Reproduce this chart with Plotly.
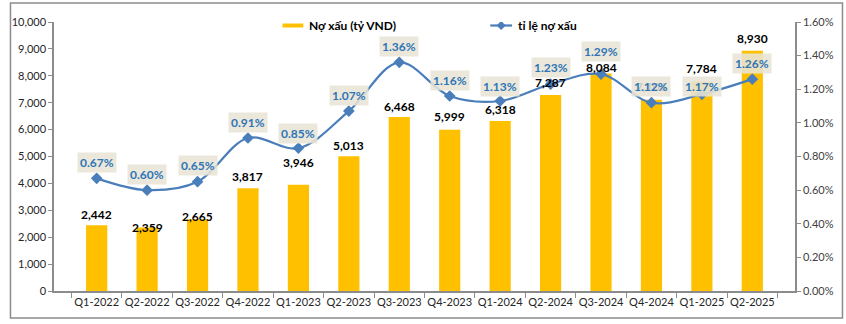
import plotly.graph_objects as go

# Quarterly bad-debt figures
quarters = ["Q1-2022", "Q2-2022", "Q3-2022", "Q4-2022", "Q1-2023", "Q2-2023", "Q3-2023",
            "Q4-2023", "Q1-2024", "Q2-2024", "Q3-2024", "Q4-2024", "Q1-2025", "Q2-2025"]
bad_debt = [2442, 2359, 2665, 3817, 3946, 5013, 6468, 5999, 6318, 7287, 8084, 7106, 7784, 8930]
npl_ratio = [0.0067, 0.0060, 0.0065, 0.0091, 0.0085, 0.0107, 0.0136, 0.0116, 0.0113, 0.0123,
             0.0129, 0.0112, 0.0117, 0.0126]

bar_name = "Nợ xấu (tỷ VND)"
line_name = "tỉ lệ nợ xấu"

# Hand-placed label nudges (pixels above the bar top / line point)
bar_label_lift = [11, 0, 3, 12, 22, 11, 11, 13, 12, 12, 6, 13, 13, 12]
ratio_label_lift = [16, 16, 16, 16, 15, 16, 16, 15, 15, 17, 23, 16, 8, 16]

FONT = "Lato"
BAR_COLOR = "#FFC000"
LINE_COLOR = "#4A7EBB"
AXIS_COLOR = "#8C8C8C"

fig = go.Figure()

fig.add_trace(go.Bar(
    x=quarters, y=bad_debt, name=bar_name,
    marker=dict(color=BAR_COLOR, line=dict(width=0)),
    width=0.42,
    showlegend=False,
))

fig.add_trace(go.Scatter(
    x=quarters, y=npl_ratio, name=line_name, yaxis="y2",
    mode="lines+markers",
    line=dict(color=LINE_COLOR, width=2.2, shape="spline", smoothing=1.0),
    marker=dict(symbol="diamond", size=9, color=LINE_COLOR),
    showlegend=False,
))

# Value labels above the bars
for q, v, lift in zip(quarters, bad_debt, bar_label_lift):
    fig.add_annotation(
        x=q, y=v, xref="x", yref="y",
        text=f"<b>{v:,}</b>",
        showarrow=False, yanchor="middle", yshift=lift,
        font=dict(family=FONT, size=12, color="#000000"),
    )

# Percentage labels above the ratio line
for q, r, lift in zip(quarters, npl_ratio, ratio_label_lift):
    fig.add_annotation(
        x=q, y=r, xref="x", yref="y2",
        text=f"<b>{r * 100:.2f}%</b>",
        showarrow=False, yanchor="middle", yshift=lift,
        font=dict(family=FONT, size=12, color="#2E75B6"),
        bgcolor="rgba(232,228,214,0.88)", borderpad=2,
    )

# Legend drawn at the top of the plot area
fig.add_shape(type="rect", xref="paper", yref="paper",
              x0=(277 - 46) / 749, x1=(298 - 46) / 749,
              y0=(291 - 27.5) / 269, y1=(291 - 23.5) / 269,
              fillcolor=BAR_COLOR, line=dict(width=0))
fig.add_annotation(xref="paper", yref="paper", x=(302 - 46) / 749, y=(291 - 25.5) / 269,
                   xanchor="left", yanchor="middle", showarrow=False,
                   text=f"<b>{bar_name}</b>",
                   font=dict(family=FONT, size=12, color="#000000"))
fig.add_shape(type="line", xref="paper", yref="paper",
              x0=(487 - 46) / 749, x1=(509 - 46) / 749,
              y0=(291 - 25.5) / 269, y1=(291 - 25.5) / 269,
              line=dict(color=LINE_COLOR, width=2.2))
fig.add_trace(go.Scatter(
    x=[(498 - 46) / 749], y=[(291 - 25.5) / 269], xaxis="x3", yaxis="y3",
    mode="markers", marker=dict(symbol="diamond", size=7, color=LINE_COLOR),
    showlegend=False, hoverinfo="skip",
))
fig.add_annotation(xref="paper", yref="paper", x=(513 - 46) / 749, y=(291 - 25.5) / 269,
                   xanchor="left", yanchor="middle", showarrow=False,
                   text=f"<b>{line_name}</b>",
                   font=dict(family=FONT, size=12, color="#000000"))

# Outer chart border
fig.add_shape(type="rect", xref="paper", yref="paper",
              x0=(2 - 46) / 749, x1=(843 - 46) / 749,
              y0=(291 - 318) / 269, y1=(291 - 3) / 269,
              line=dict(color="#8C8C8C", width=1.5), fillcolor="rgba(0,0,0,0)")

tick_font = dict(family=FONT, size=11, color="#262626")

fig.update_layout(
    width=846, height=324,
    margin=dict(l=46, r=51, t=22, b=33),
    paper_bgcolor="white", plot_bgcolor="white",
    font=dict(family=FONT),
    xaxis=dict(
        showline=True, linecolor=AXIS_COLOR, linewidth=1.5,
        ticks="outside", tickson="boundaries", ticklen=5, tickcolor=AXIS_COLOR,
        tickfont=tick_font, tickangle=0, showgrid=False, fixedrange=True,
    ),
    yaxis=dict(
        range=[0, 10000], dtick=1000, tickformat=",",
        showline=True, linecolor=AXIS_COLOR, linewidth=1.5,
        ticks="outside", ticklen=4, tickcolor=AXIS_COLOR,
        tickfont=tick_font, showgrid=False, zeroline=False,
    ),
    yaxis2=dict(
        range=[0, 0.016], dtick=0.002, tickformat=".2%",
        overlaying="y", side="right",
        showline=True, linecolor=AXIS_COLOR, linewidth=1.5,
        ticks="outside", ticklen=4, tickcolor=AXIS_COLOR,
        tickfont=dict(family=FONT, size=11, color="#404040"),
        showgrid=False, zeroline=False,
    ),
    xaxis3=dict(domain=[0, 1], range=[0, 1], overlaying="x", visible=False, fixedrange=True),
    yaxis3=dict(domain=[0, 1], range=[0, 1], overlaying="y", visible=False, fixedrange=True),
)

fig.write_html("out.html")
